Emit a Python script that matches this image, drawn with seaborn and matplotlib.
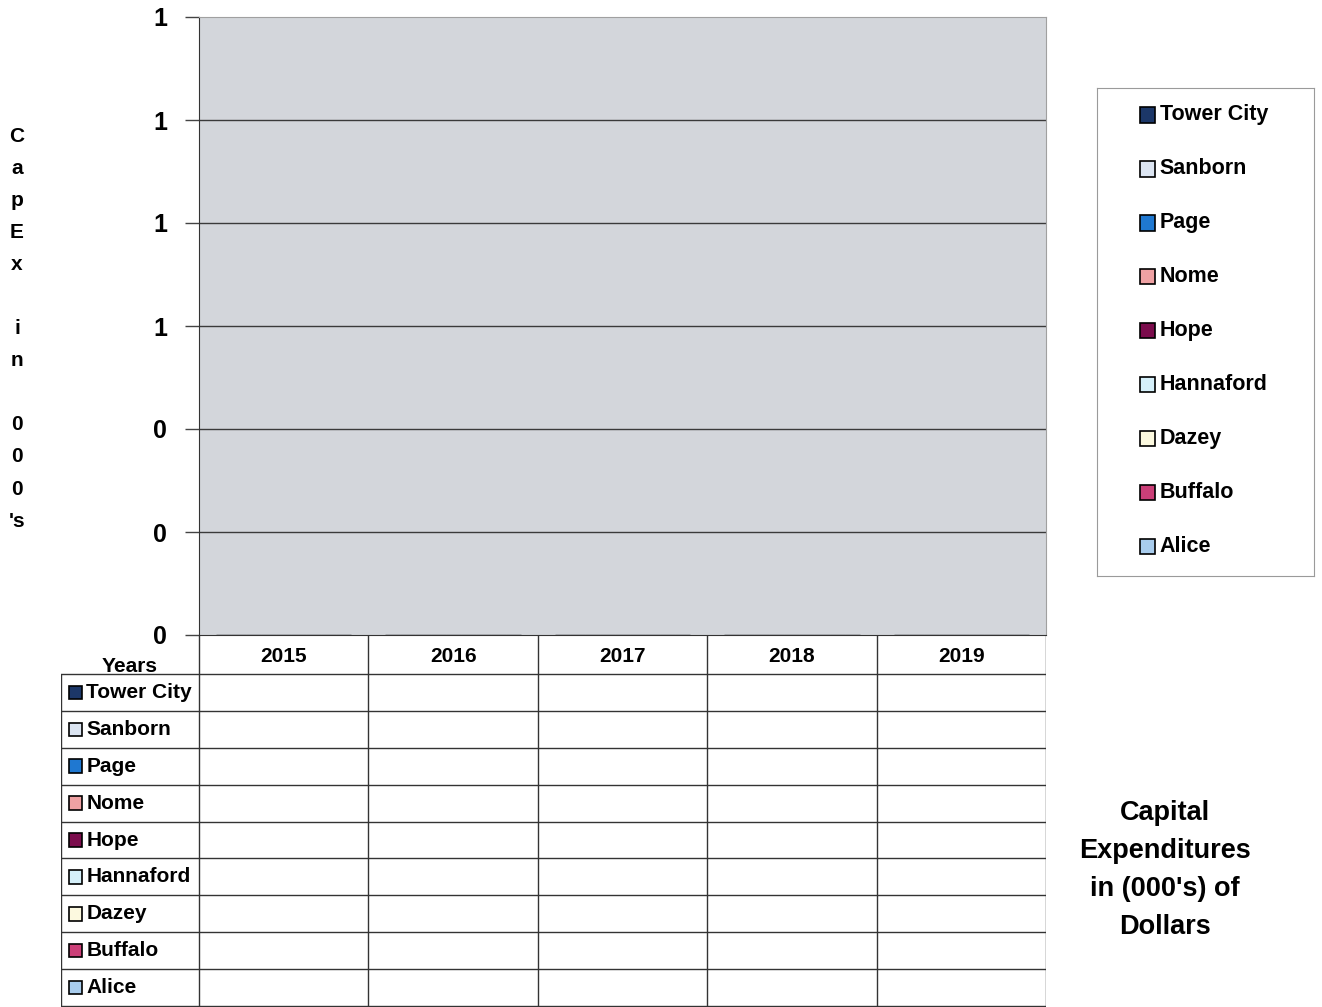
import matplotlib
matplotlib.use("Agg")
import matplotlib.pyplot as plt
import matplotlib.patches as mpatches
import seaborn as sns
import numpy as np
import pandas as pd

# データ
years = ["2015", "2016", "2017", "2018", "2019"]
sites = ["Tower City", "Sanborn", "Page", "Nome", "Hope", "Hannaford", "Dazey", "Buffalo", "Alice"]
site_colors = ["#1c3768", "#dce5f2", "#1f78d1", "#efa1a3", "#7b0c4c", "#d5f0fa", "#fcf9df", "#cc3f78", "#a8cced"]
# 全ての値が空(0)
capex_2015 = [0, 0, 0, 0, 0, 0, 0, 0, 0]
capex_2016 = [0, 0, 0, 0, 0, 0, 0, 0, 0]
capex_2017 = [0, 0, 0, 0, 0, 0, 0, 0, 0]
capex_2018 = [0, 0, 0, 0, 0, 0, 0, 0, 0]
capex_2019 = [0, 0, 0, 0, 0, 0, 0, 0, 0]
y_ticks = [0, 0.2, 0.4, 0.6, 0.8, 1.0, 1.2]

rows = []
for yr, vals in zip(years, [capex_2015, capex_2016, capex_2017, capex_2018, capex_2019]):
    for s, v in zip(sites, vals):
        rows.append({"Year": yr, "Site": s, "CapEx": v})
df = pd.DataFrame(rows)

sns.set_style("white")
plt.rcParams["font.family"] = ["Liberation Sans", "DejaVu Sans"]
plt.rcParams["font.weight"] = "bold"
plt.rcParams["text.color"] = "black"
plt.rcParams["ytick.labelcolor"] = "black"

fig = plt.figure(figsize=(13.22, 10.07), dpi=100)
W, H = 1322, 1007

# メインのグラフ
ax = fig.add_axes([199 / W, 1 - 635 / H, 847 / W, 618 / H])
sns.barplot(data=df, x="Year", y="CapEx", hue="Site", hue_order=sites,
            palette=site_colors, edgecolor="black", legend=False, ax=ax)
ax.set_facecolor("#d3d6db")
ax.set_ylim(0, 1.2)
ax.set_xlim(-0.5, len(years) - 0.5)
ax.set_yticks(y_ticks)
ax.set_yticklabels([f"{v:.0f}" for v in y_ticks], fontsize=18, fontweight="bold", color="black")
ax.tick_params(axis="y", length=10, width=1, color="#444444", pad=13, left=True)
ax.set_xticks([])
ax.set_xlabel("")
ax.set_ylabel("")
for v in y_ticks[1:-1]:
    ax.axhline(v, color="#3a3a3a", lw=1, zorder=0.5)
ax.spines["left"].set_color("#333333")
ax.spines["bottom"].set_color("#333333")
ax.spines["top"].set_color("#a0a0a0")
ax.spines["right"].set_color("#a0a0a0")

# 縦書きのy軸ラベル
fig.text(17 / W, 1 - 127 / H, "C\na\np\nE\nx\n\ni\nn\n\n0\n0\n0\n's",
         ha="center", va="top", fontsize=15, fontweight="bold", linespacing=1.87)

# データテーブル
left_col = 138 / 169.4
tab = fig.add_axes([(199 - 138) / W, 0, (847 + 138) / W, 372 / H])
tab.set_xlim(-0.5 - left_col, len(years) - 0.5)
tab.set_ylim(len(sites) + 0.02, -1.05)
tab.axis("off")
line_kw = dict(color="#333333", lw=1)
for j in range(len(sites) + 1):
    tab.plot([-0.5 - left_col, len(years) - 0.5], [j, j], **line_kw)
tab.plot([-0.5 - left_col, -0.5 - left_col], [0, len(sites)], **line_kw)
for i in range(len(years) + 1):
    tab.plot([i - 0.5, i - 0.5], [-1.05, len(sites)], **line_kw)
for i, yr in enumerate(years):
    tab.text(i, -0.47, yr, ha="center", va="center", fontsize=15, fontweight="bold")
tab.text(-0.5 - left_col / 2, -0.2, "Years", ha="center", va="center", fontsize=15, fontweight="bold")
for j, (s, c) in enumerate(zip(sites, site_colors)):
    tab.add_patch(mpatches.Rectangle((-0.5 - left_col + 0.05, j + 0.32), 0.075, 0.36,
                                     facecolor=c, edgecolor="black", lw=1.2))
    tab.text(-0.5 - left_col + 0.15, j + 0.5, s, ha="left", va="center", fontsize=15, fontweight="bold")

# 凡例
leg = fig.add_axes([1097 / W, 1 - 576 / H, 217 / W, 488 / H])
leg.set_xlim(0, 1)
leg.set_ylim(9.04, 0)
leg.set_xticks([])
leg.set_yticks([])
for sp in leg.spines.values():
    sp.set_color("#9a9a9a")
for j, (s, c) in enumerate(zip(sites, site_colors)):
    leg.add_patch(mpatches.Rectangle((0.2, j + 0.36), 0.066, 0.28,
                                     facecolor=c, edgecolor="black", lw=1.2))
    leg.text(0.29, j + 0.5, s, ha="left", va="center", fontsize=15.5, fontweight="bold")

# タイトル
fig.text(1165 / W, 1 - 870 / H, "Capital\nExpenditures\nin (000's) of\nDollars",
         ha="center", va="center", fontsize=19.5, fontweight="bold", linespacing=1.6)

plt.savefig("out.png", dpi=100)
plt.close()
